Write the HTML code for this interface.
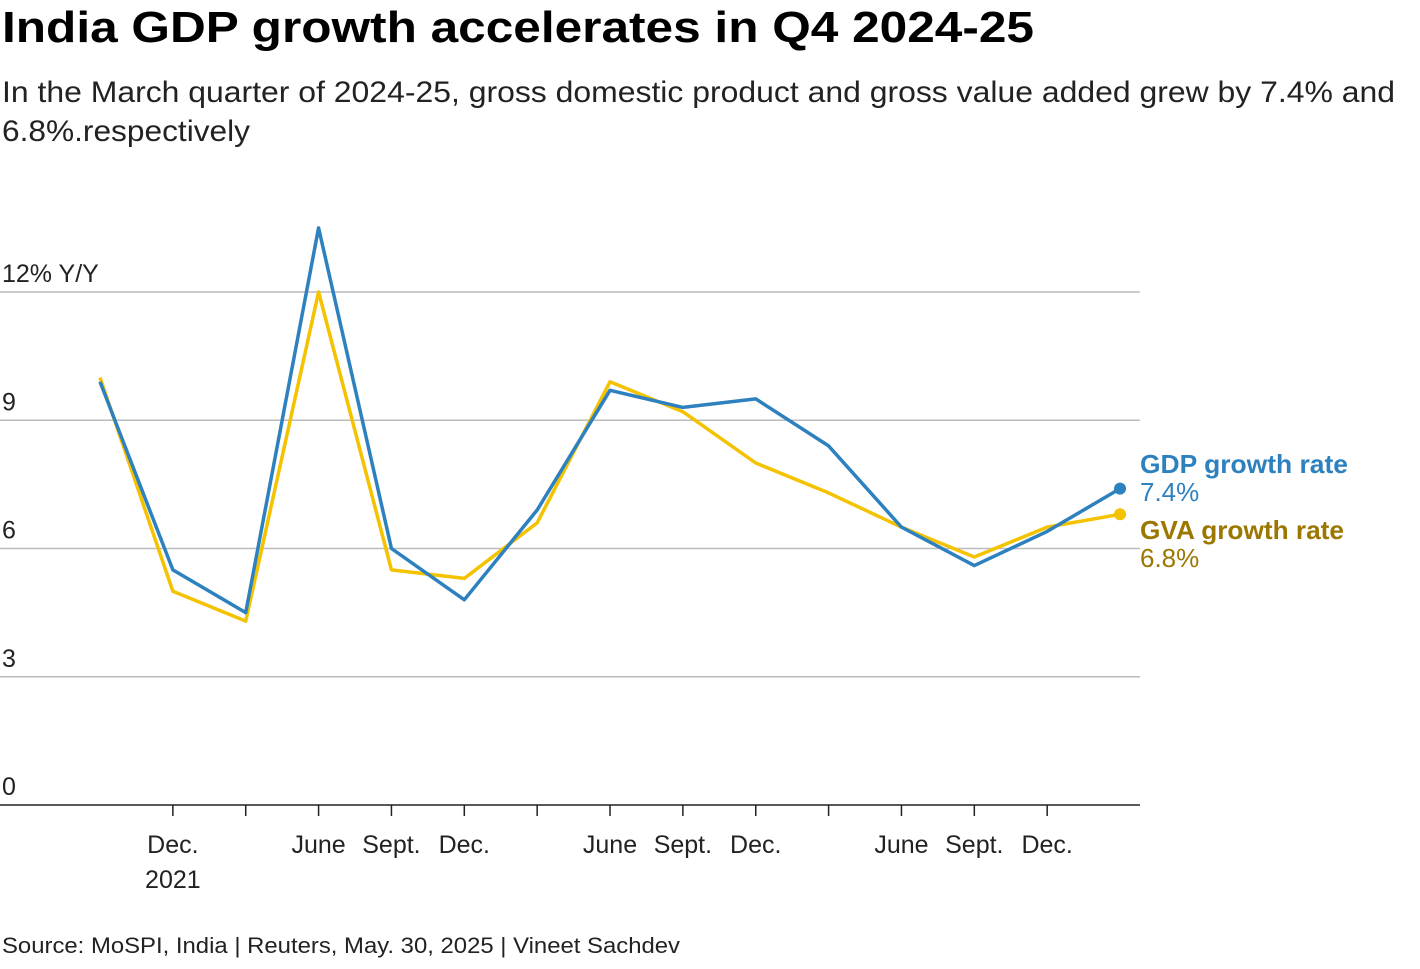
<!DOCTYPE html>
<html><head><meta charset="utf-8"><style>
body{margin:0;width:1420px;height:964px;background:#fff;font-family:"Liberation Sans",sans-serif;overflow:hidden}
</style></head><body>
<svg width="1420" height="964" id="svg" font-family="Liberation Sans, sans-serif">
<text x="2" y="42" font-size="44" font-weight="bold" fill="#000" textLength="1032" lengthAdjust="spacingAndGlyphs">India GDP growth accelerates in Q4 2024-25</text>
<text x="2" y="102" font-size="30" fill="#222" textLength="1393" lengthAdjust="spacingAndGlyphs">In the March quarter of 2024-25, gross domestic product and gross value added grew by 7.4% and</text>
<text x="2" y="141" font-size="30" fill="#222" textLength="248" lengthAdjust="spacingAndGlyphs">6.8%.respectively</text>
<text x="2" y="953" font-size="22" fill="#222" textLength="678" lengthAdjust="spacingAndGlyphs">Source: MoSPI, India | Reuters, May. 30, 2025 | Vineet Sachdev</text>
<g id="grid"></g><g id="xax"></g><g id="lines"></g>
<text x="1140" y="473" font-size="26" font-weight="bold" fill="#2e81bf" textLength="208" lengthAdjust="spacingAndGlyphs">GDP growth rate</text>
<text x="1140" y="501" font-size="26" fill="#2e81bf">7.4%</text>
<text x="1140" y="539" font-size="26" font-weight="bold" fill="#9c7700" textLength="204" lengthAdjust="spacingAndGlyphs">GVA growth rate</text>
<text x="1140" y="567" font-size="26" fill="#9c7700">6.8%</text>
</svg>
<script>
const quarters=["Sep21","Dec21","Mar22","Jun22","Sep22","Dec22","Mar23","Jun23","Sep23","Dec23","Mar24","Jun24","Sep24","Dec24","Mar25"];
const gdp=[9.9,5.5,4.5,13.5,6.0,4.8,6.9,9.7,9.3,9.5,8.4,6.5,5.6,6.4,7.4];
const gva=[10.0,5.0,4.3,12.0,5.5,5.3,6.6,9.9,9.2,8.0,7.3,6.5,5.8,6.5,6.8];
const yTicks=[0,3,6,9,12];
const yTickLabels=["0","3","6","9","12% Y/Y"];
const xLabels=["","Dec.","","June","Sept.","Dec.","","June","Sept.","Dec.","","June","Sept.","Dec.",""];
const NS="http://www.w3.org/2000/svg";
const x=i=>100+i*72.86;
const y=v=>805-v*42.75;
function mk(tag,attrs,parent){const e=document.createElementNS(NS,tag);for(const k in attrs)e.setAttribute(k,attrs[k]);document.getElementById(parent).appendChild(e);return e;}
yTicks.forEach((t,i)=>{
  if(t>0){const l=mk('line',{x1:0,x2:1140,y1:y(t),y2:y(t),stroke:'#bbb','stroke-width':1.5},'grid');
  
  }
  const tx=mk('text',{x:2,y:y(t)-10,'font-size':25,fill:'#222'},'grid');tx.textContent=yTickLabels[i];
  
  
});
const ax=mk('line',{x1:0,x2:1140,y1:805,y2:805,stroke:'#222','stroke-width':1.5},'xax');


quarters.forEach((q,i)=>{
  if(i>0&&i<quarters.length-1){const tk=mk('line',{x1:x(i),x2:x(i),y1:805,y2:816,stroke:'#222','stroke-width':1.5},'xax');
  
  }
  if(xLabels[i]){const t=mk('text',{x:x(i),y:853,'font-size':25,fill:'#222','text-anchor':'middle'},'xax');t.textContent=xLabels[i];
  
  }
});
const yr=mk('text',{x:x(1),y:888,'font-size':25,fill:'#222','text-anchor':'middle'},'xax');yr.textContent="2021";


[[gva,'#f5c200','gva-line'],[gdp,'#2e81bf','gdp-line']].forEach(([d,c,n])=>{
  const p=mk('polyline',{points:d.map((v,i)=>x(i)+','+y(v)).join(' '),fill:'none',stroke:c,'stroke-width':3.5,'stroke-linejoin':'round'},'lines');
  
  
  const dot=mk('circle',{cx:x(d.length-1),cy:y(d[d.length-1]),r:6,fill:c},'lines');
  
  
});
</script>
</body></html>
